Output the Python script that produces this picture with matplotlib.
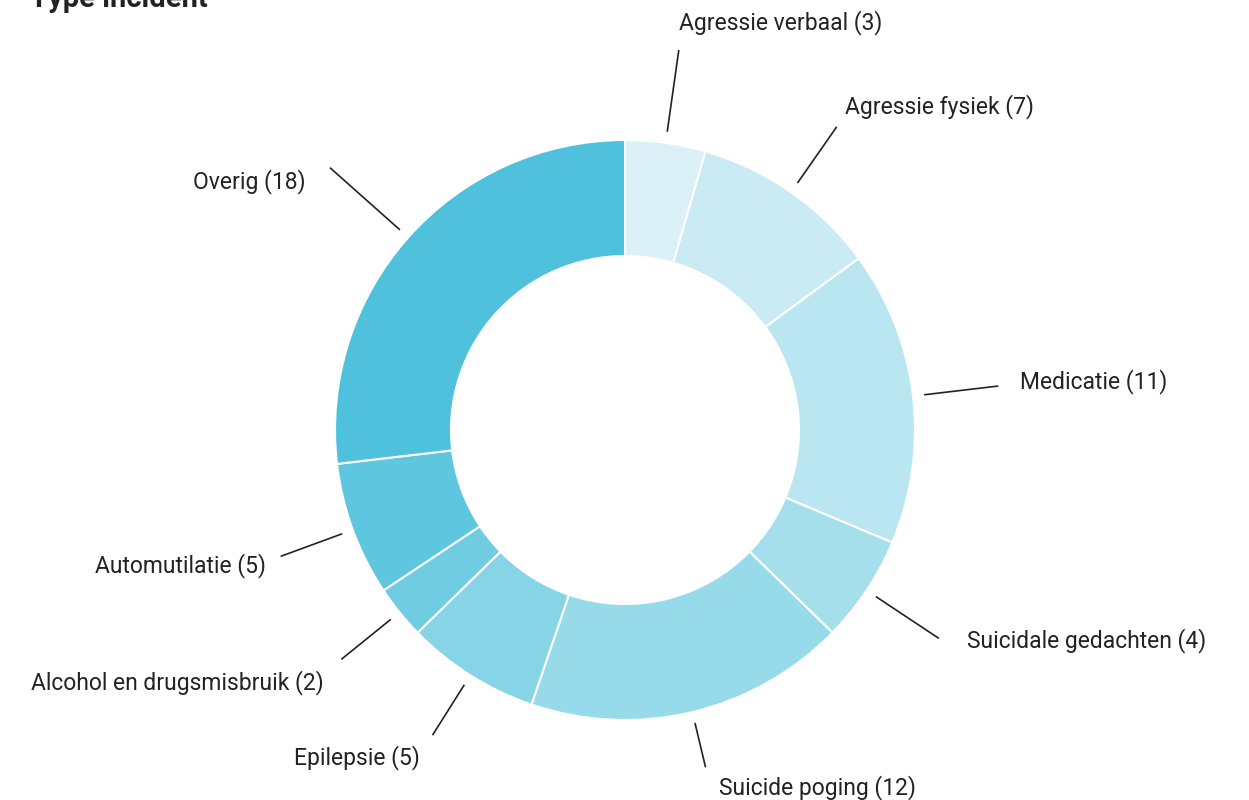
import numpy as np
import matplotlib.pyplot as plt

plt.rcParams['font.family'] = ['Roboto', 'DejaVu Sans']

# data
labels = ['Agressie verbaal', 'Agressie fysiek', 'Medicatie', 'Suicidale gedachten',
          'Suicide poging', 'Epilepsie', 'Alcohol en drugsmisbruik', 'Automutilatie', 'Overig']
counts = [3, 7, 11, 4, 12, 5, 2, 5, 18]
colors = ['#DCF0F7', '#CAEBF3', '#B9E6F0', '#A6DFEC', '#97DAE9',
          '#86D4E6', '#6FCCE1', '#5FC6DF', '#4FC1DC']

# layout (pixels): leader line outer radius and text offset from line end
line_end = [383, 369, 375, 376, 346, 360, 364, 366, 394]
txt_off = [(0, 28), (9, 21), (23, 5), (29, -3), (14, -21),
           (-13, -23), (-18, -24), (-15, -9), (-25, -13)]

W, H = 1249, 800
cx, cy, R = 625, H - 430, 290

fig = plt.figure(figsize=(W / 100, H / 100), dpi=100)
ax = fig.add_axes([0, 0, 1, 1])
ax.pie(counts, colors=colors, startangle=90, counterclock=False,
       center=(cx, cy), radius=R,
       wedgeprops=dict(width=0.4 * R, edgecolor='white', linewidth=1.5))
ax.set_xlim(0, W)
ax.set_ylim(0, H)
ax.axis('off')

cum = np.cumsum(counts)
mids = (cum - np.array(counts) / 2) / cum[-1] * 2 * np.pi
for lab, n, a, r2, (dx, dy) in zip(labels, counts, mids, line_end, txt_off):
    sx, sy = np.sin(a), np.cos(a)
    r1 = R + 12
    x1, y1 = cx + r1 * sx, cy + r1 * sy
    x2, y2 = cx + r2 * sx, cy + r2 * sy
    ax.plot([x1, x2], [y1, y2], color='#222222', lw=1.2)
    ha = 'left' if sx >= 0 else 'right'
    ax.text(x2 + dx, y2 + dy, f'{lab} ({n})', ha=ha, va='center',
            fontsize=16.5, color='#222222')

# title is cut off at the top edge, as in the original
fig.text(30 / W, 1 - 7 / H, 'Type incident', fontsize=21, fontweight='bold',
         color='#222222', ha='left', va='baseline')

fig.savefig('out.png', dpi=100)
